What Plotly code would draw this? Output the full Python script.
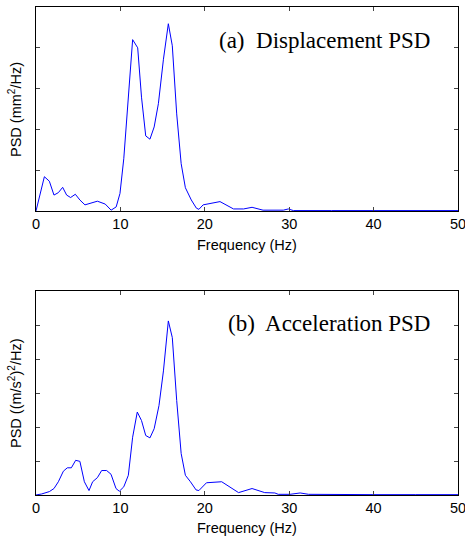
import plotly.graph_objects as go
from plotly.subplots import make_subplots

# Displacement PSD (arbitrary units, tick spacing = 1)
freq_a = [0, 0.99, 1.58, 2.13, 2.65, 3.16, 3.63, 4.1, 4.66, 5.2, 5.8, 6.5, 7.27, 8.2, 8.9, 9.5, 9.95,
          10.4, 10.9, 11.45, 12.05, 12.5, 13.0, 13.5, 14.0, 14.5, 15.1, 15.68, 16.15, 16.67, 17.2,
          17.7, 18.4, 19.0, 19.3, 19.8, 21.8, 23.4, 24.6, 25.6, 26.9, 29.3, 29.9, 30.5, 35, 40, 45, 50]
psd_a = [0, 0.84, 0.73, 0.39, 0.45, 0.58, 0.39, 0.33, 0.41, 0.27, 0.15, 0.2, 0.24, 0.17, 0.02, 0.1, 0.43,
         1.28, 2.7, 4.2, 4.0, 2.79, 1.84, 1.76, 2.06, 2.63, 3.72, 4.59, 4.05, 2.38, 1.16,
         0.57, 0.27, 0.07, 0.04, 0.15, 0.23, 0.05, 0.05, 0.09, 0.02, 0.02, 0.05, 0.01, 0.01, 0.01, 0.01, 0.01]

# Acceleration PSD
freq_b = [0, 0.67, 1.58, 2.13, 2.65, 3.24, 3.71, 4.19, 4.7, 5.2, 5.73, 6.28, 6.71, 7.27, 7.78, 8.37,
          8.89, 9.48, 9.87, 10.4, 10.94, 11.45, 12.0, 12.5, 13.0, 13.5, 14.0, 14.57, 15.1, 15.68,
          16.15, 16.67, 17.2, 17.7, 18.3, 18.96, 19.3, 20.2, 22.0, 24.0, 25.6, 27.1, 28.3, 28.7,
          30.1, 31.3, 32.3, 35, 40, 45, 50]
psd_b = [0, 0.03, 0.1, 0.19, 0.39, 0.7, 0.8, 0.8, 1.02, 0.99, 0.39, 0.13, 0.39, 0.51, 0.72, 0.72,
         0.61, 0.19, 0.11, 0.24, 0.58, 1.7, 2.44, 2.19, 1.75, 1.68, 1.95, 2.63, 3.65, 5.12,
         4.63, 2.78, 1.22, 0.58, 0.39, 0.15, 0.13, 0.36, 0.39, 0.07, 0.19, 0.07, 0.06, 0.02,
         0.02, 0.06, 0.02, 0.01, 0.01, 0.01, 0.01]

x_ticks = [0, 10, 20, 30, 40, 50]
panel_titles = ["(a)  Displacement PSD", "(b)  Acceleration PSD"]
y_titles = ["PSD (mm<sup>2</sup>/Hz)", "PSD ((m/s<sup>2</sup>)<sup>2</sup>/Hz)"]
x_title = "Frequency (Hz)"
y_max = [5, 6]

fig = make_subplots(rows=2, cols=1, vertical_spacing=0.164)
fig.add_trace(go.Scatter(x=freq_a, y=psd_a, mode="lines", line=dict(color="#0000ff", width=1)), row=1, col=1)
fig.add_trace(go.Scatter(x=freq_b, y=psd_b, mode="lines", line=dict(color="#0000ff", width=1)), row=2, col=1)

axfont = dict(family="Liberation Sans, Arial", size=14.5, color="black")
for i in range(2):
    r = i + 1
    fig.update_xaxes(range=[0, 50], tickvals=x_ticks, ticks="inside", ticklen=4, mirror="allticks",
                     showline=True, linecolor="black", linewidth=1, showgrid=False, zeroline=False,
                     tickfont=axfont, automargin=False, ticklabeloverflow="allow", row=r, col=1)
    fig.update_yaxes(range=[0, y_max[i]], dtick=1, ticks="inside", ticklen=4, mirror="allticks",
                     showline=True, linecolor="black", linewidth=1, showgrid=False, zeroline=False,
                     showticklabels=False, automargin=False, row=r, col=1)

fig.update_layout(
    width=465, height=537, margin=dict(l=36, r=7, t=7, b=42, autoexpand=False),
    plot_bgcolor="white", paper_bgcolor="white", showlegend=False,
)
fig.update_layout(yaxis=dict(domain=[0.582, 1.0]), yaxis2=dict(domain=[0.0, 0.418]))

# axis titles
fig.add_annotation(x=-0.0498, y=0.791, xref="paper", yref="paper", xanchor="center", yanchor="middle",
                   text=y_titles[0], textangle=-90, showarrow=False, font=axfont)
fig.add_annotation(x=-0.0498, y=0.209, xref="paper", yref="paper", xanchor="center", yanchor="middle",
                   text=y_titles[1], textangle=-90, showarrow=False, font=axfont)
fig.add_annotation(x=0.5, y=0.512, xref="paper", yref="paper", xanchor="center", yanchor="middle",
                   text=x_title, showarrow=False, font=axfont)
fig.add_annotation(x=0.5, y=-0.0676, xref="paper", yref="paper", xanchor="center", yanchor="middle",
                   text=x_title, showarrow=False, font=axfont)

# panel labels
fig.add_annotation(x=0.938, y=0.932, xref="paper", yref="paper", xanchor="right", yanchor="middle",
                   text=panel_titles[0], showarrow=False,
                   font=dict(family="Liberation Serif, Times New Roman", size=23, color="black"))
fig.add_annotation(x=0.938, y=0.352, xref="paper", yref="paper", xanchor="right", yanchor="middle",
                   text=panel_titles[1], showarrow=False,
                   font=dict(family="Liberation Serif, Times New Roman", size=23, color="black"))

fig.write_html("out.html", config={"displayModeBar": False},
               post_script="document.body.style.margin='0';document.body.style.overflow='hidden';")
